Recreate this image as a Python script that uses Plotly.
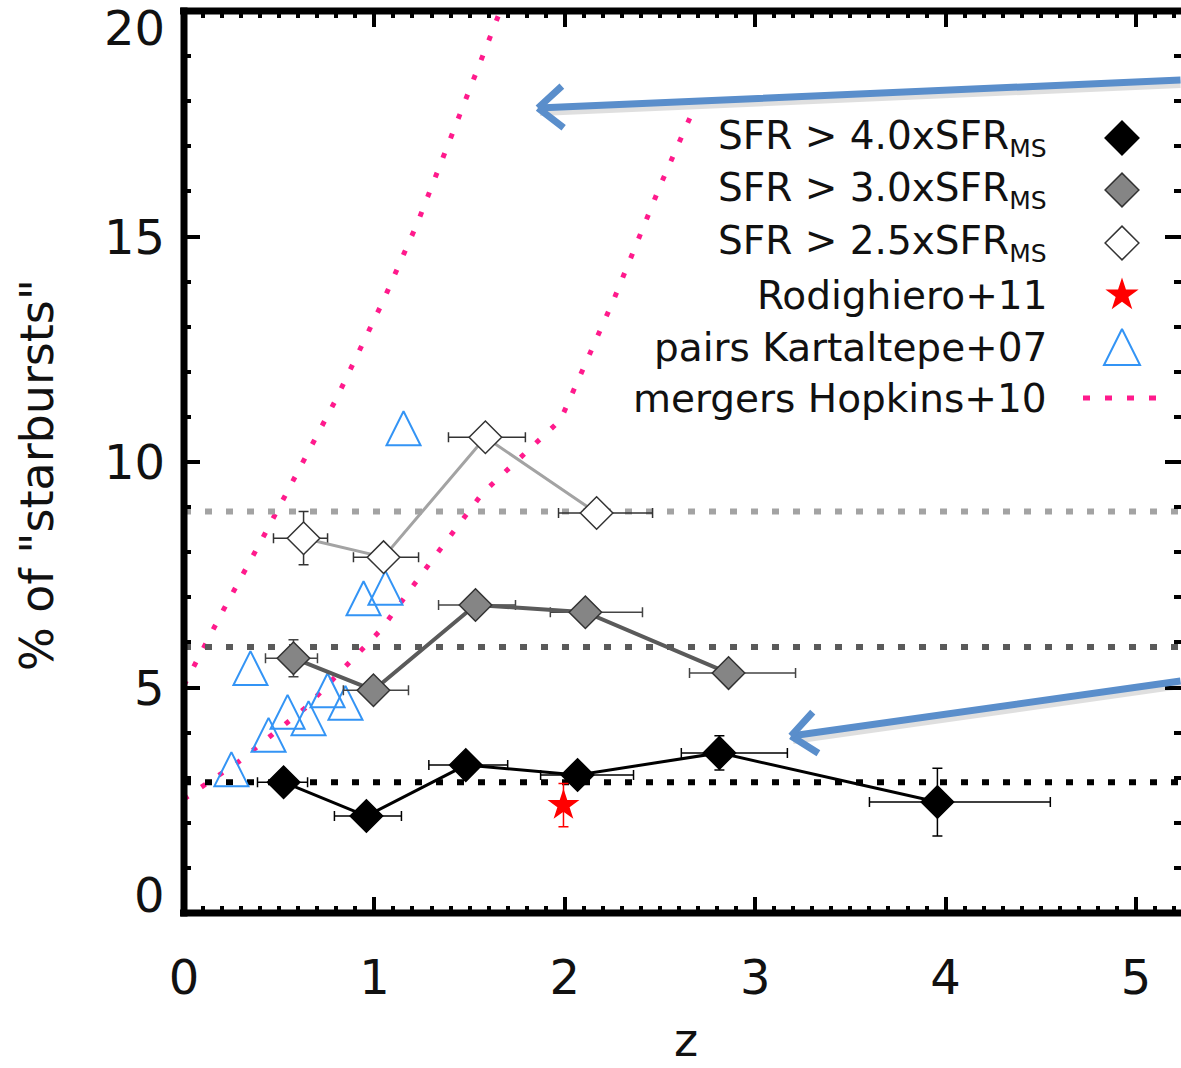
import math
import plotly.graph_objects as go

# ---------------- data ----------------
# SFR > 4.0 x SFR_MS  (black diamonds)
z_sb40 = [0.523, 0.958, 1.48, 2.067, 2.812, 3.957]
pct_sb40 = [2.90, 2.15, 3.28, 3.06, 3.55, 2.46]
zerr_lo_sb40 = [0.137, 0.168, 0.194, 0.194, 0.20, 0.357]
zerr_hi_sb40 = [0.126, 0.184, 0.22, 0.294, 0.357, 0.593]
pcterr_sb40 = [0.0, 0.0, 0.0, 0.0, 0.38, 0.75]

# SFR > 3.0 x SFR_MS  (grey diamonds)
z_sb30 = [0.575, 0.995, 1.531, 2.108, 2.86]
pct_sb30 = [5.65, 4.94, 6.83, 6.67, 5.32]
zerr_lo_sb30 = [0.147, 0.158, 0.194, 0.184, 0.205]
zerr_hi_sb30 = [0.126, 0.184, 0.21, 0.30, 0.352]
pcterr_sb30 = [0.41, 0.0, 0.0, 0.0, 0.0]

# SFR > 2.5 x SFR_MS  (open diamonds)
z_sb25 = [0.628, 1.048, 1.583, 2.167]
pct_sb25 = [8.31, 7.89, 10.55, 8.87]
zerr_lo_sb25 = [0.158, 0.158, 0.194, 0.20]
zerr_hi_sb25 = [0.126, 0.184, 0.21, 0.294]
pcterr_sb25 = [0.59, 0.0, 0.0, 0.0]

# Rodighiero+11 (red star)
z_rod = [1.993]
pct_rod = [2.39]
pcterr_rod = [0.48]

# pairs Kartaltepe+07 (open triangles)
z_kart = [0.249, 0.349, 0.444, 0.544, 0.654, 0.754, 0.848, 0.943, 1.058, 1.153]
pct_kart = [3.19, 5.43, 3.95, 4.46, 4.32, 4.94, 4.66, 6.98, 7.21, 10.75]

# mergers Hopkins+10 (two dotted curves)
z_hop_hi = [0.0, 0.207, 0.428, 0.638, 0.796, 1.048, 1.226, 1.636, 1.66]
pct_hop_hi = [5.05, 6.72, 8.43, 10.1, 11.37, 13.59, 15.3, 19.73, 20.0]
z_hop_lo = [0.0, 0.286, 0.638, 1.032, 1.295, 1.568, 1.977, 2.256, 2.508, 2.685]
pct_hop_lo = [2.53, 3.35, 4.55, 6.27, 7.78, 9.31, 10.93, 13.59, 16.2, 17.9]

# horizontal reference levels (same colours as the three SFR series)
ref_levels = [2.9, 5.9, 8.9]

SUB = "<sub><span style='font-size:25px'>MS</span></sub>"
legend_labels = [
    "SFR > 4.0xSFR" + SUB,
    "SFR > 3.0xSFR" + SUB,
    "SFR > 2.5xSFR" + SUB,
    "Rodighiero+11",
    "pairs Kartaltepe+07",
    "mergers Hopkins+10",
]

x_ticks = [0, 1, 2, 3, 4, 5]
y_ticks = [0, 5, 10, 15, 20]
x_title = "z"
y_title = '% of "starbursts"'

# ---------------- styling / layout constants ----------------
W, H = 1181, 1068
ML, MT, MB = 184, 11, 155
PW, PH = W - ML, H - MT - MB
X_MAX = PW / 190.4
Y_MAX = 20.0005
FONT = "DejaVu Sans"
TXT = "#111111"
PINK = "#ff1a8c"
BLUE = "#3394f5"
ARROW = "#5a8ecb"
GREY_D = "#5a5a5a"
GREY_L = "#a3a3a3"


def px_to_paper(px, py):
    return (px - ML) / PW, (H - MB - py) / PH


fig = go.Figure()

# Hopkins curves
for zz, pp in [(z_hop_hi, pct_hop_hi), (z_hop_lo, pct_hop_lo)]:
    fig.add_trace(go.Scatter(x=zz, y=pp, mode="lines",
                             line=dict(color=PINK, width=5, dash="5px,16px")))

# horizontal dotted reference levels
for lev, col in zip(ref_levels, ["black", GREY_D, GREY_L]):
    fig.add_trace(go.Scatter(x=[0, X_MAX], y=[lev, lev], mode="lines",
                             line=dict(color=col, width=6, dash="7px,14px")))

# Kartaltepe pairs (triangle centred on the point)
TRI = 34
fig.add_trace(go.Scatter(x=z_kart, y=pct_kart, mode="markers",
                         marker=dict(symbol="arrow-down-open", angle=180, standoff=TRI / 2,
                                     size=TRI, color=BLUE, line=dict(color=BLUE, width=2))))

# SFR series
series = [
    (z_sb25, pct_sb25, zerr_lo_sb25, zerr_hi_sb25, pcterr_sb25, GREY_L, "white", "#333333", "#333333", 3),
    (z_sb30, pct_sb30, zerr_lo_sb30, zerr_hi_sb30, pcterr_sb30, GREY_D, "#858585", "#333333", "#444444", 4),
    (z_sb40, pct_sb40, zerr_lo_sb40, zerr_hi_sb40, pcterr_sb40, "black", "black", "black", "black", 3),
]
for zz, pp, zlo, zhi, pe, lc, fc, oc, ec, lw in series:
    fig.add_trace(go.Scatter(
        x=zz, y=pp, mode="lines+markers",
        line=dict(color=lc, width=lw),
        marker=dict(symbol="diamond", size=25, color=fc, line=dict(color=oc, width=1.5)),
        error_x=dict(type="data", symmetric=False, array=zhi, arrayminus=zlo, visible=True,
                     color=ec, thickness=1.5, width=5),
        error_y=dict(type="data", array=pe, visible=True, color=ec, thickness=1.5, width=5),
    ))

# Rodighiero star
fig.add_trace(go.Scatter(x=z_rod, y=pct_rod, mode="markers",
                         marker=dict(symbol="star", size=24, color="#ff0000", line=dict(width=0)),
                         error_y=dict(type="data", array=pcterr_rod, visible=True,
                                      color="#ff0000", thickness=1.5, width=5)))

# ---------------- custom legend (pixel overlay axes) ----------------
LEG_TEXT_X = 1049
LEG_SYM_X = 1122
LEG_ROWS = [138, 190, 243, 295, 347, 398]
leg_markers = [
    dict(symbol="diamond", size=26, color="black", line=dict(color="black", width=1.5)),
    dict(symbol="diamond", size=26, color="#858585", line=dict(color="#333333", width=1.5)),
    dict(symbol="diamond", size=26, color="white", line=dict(color="#333333", width=1.5)),
    dict(symbol="star", size=25, color="#ff0000", line=dict(width=0)),
    dict(symbol="arrow-down-open", angle=180, standoff=18, size=36, color=BLUE,
         line=dict(color=BLUE, width=2)),
]
for mk, yy in zip(leg_markers, LEG_ROWS[:5]):
    fig.add_trace(go.Scatter(x=[LEG_SYM_X], y=[yy], mode="markers", marker=mk,
                             xaxis="x2", yaxis="y2"))
fig.add_trace(go.Scatter(x=[1083, 1162], y=[LEG_ROWS[5], LEG_ROWS[5]], mode="lines",
                         line=dict(color=PINK, width=5, dash="7px,15px"),
                         xaxis="x2", yaxis="y2"))

annotations = []
for lab, yy in zip(legend_labels, LEG_ROWS):
    annotations.append(dict(x=LEG_TEXT_X, y=yy, xref="x2", yref="y2", text=lab,
                            showarrow=False, xanchor="right", yanchor="middle",
                            font=dict(family=FONT, size=39, color=TXT)))

# y tick labels (end labels nudged inside the frame, as in the original)
for v in y_ticks:
    shift = -17 if v == max(y_ticks) else (18 if v == min(y_ticks) else 0)
    annotations.append(dict(x=0, y=v, xref="paper", yref="y", text=str(v), showarrow=False,
                            xanchor="right", yanchor="middle", xshift=-17, yshift=shift,
                            font=dict(family=FONT, size=48, color=TXT)))

# axis titles
tx, ty = px_to_paper(37, 475)
annotations.append(dict(x=tx, y=ty, xref="paper", yref="paper", text=y_title,
                        textangle=-90, showarrow=False, xanchor="center", yanchor="middle",
                        font=dict(family=FONT, size=46, color=TXT)))
tx, ty = px_to_paper(686, 1040)
annotations.append(dict(x=tx, y=ty, xref="paper", yref="paper", text=x_title,
                        showarrow=False, xanchor="center", yanchor="middle",
                        font=dict(family=FONT, size=46, color=TXT)))


# blue arrows (drawn as annotations)
def arrow_ann(x, y, ax, ay, color, width):
    return dict(x=x, y=y, xref="x2", yref="y2", ax=ax, ay=ay, showarrow=True, arrowhead=0,
                arrowwidth=width, arrowcolor=color, text="", font=dict(size=1),
                borderpad=0, standoff=0, startstandoff=0)


def add_arrow(head, tail):
    hx, hy = head
    tx_, ty_ = tail
    annotations.append(arrow_ann(hx + 2, hy + 4, tx_ - hx, ty_ - hy, "rgba(0,0,0,0.12)", 8))
    annotations.append(arrow_ann(hx, hy, tx_ - hx, ty_ - hy, ARROW, 7))
    th = math.atan2(ty_ - hy, tx_ - hx)
    for sgn in (1, -1):
        a = th + sgn * math.radians(40)
        annotations.append(arrow_ann(hx, hy, 33 * math.cos(a), 33 * math.sin(a), ARROW, 7))


add_arrow((538, 108), (1195, 80))
add_arrow((791, 736), (1195, 681))

# frame lines
shapes = [
    dict(type="line", xref="paper", yref="paper", x0=0, x1=0, y0=-0.004, y1=1.004,
         line=dict(color="black", width=7), layer="above"),
    dict(type="line", xref="paper", yref="paper", x0=-0.004, x1=1.0, y0=0, y1=0,
         line=dict(color="black", width=7), layer="above"),
    dict(type="line", xref="paper", yref="paper", x0=-0.004, x1=1.0, y0=1, y1=1,
         line=dict(color="black", width=7), layer="above"),
]

fig.update_layout(
    width=W, height=H,
    margin=dict(l=ML, r=0, t=MT, b=MB, pad=0),
    plot_bgcolor="white", paper_bgcolor="white",
    showlegend=False,
    font=dict(family=FONT, color=TXT),
    annotations=annotations,
    shapes=shapes,
    xaxis=dict(range=[0, X_MAX], tickvals=x_ticks, ticks="inside", ticklen=16, tickwidth=4,
               tickcolor="black", mirror="ticks", showline=False, showgrid=False, zeroline=False,
               tickfont=dict(family=FONT, size=48, color=TXT), ticklabelstandoff=32,
               minor=dict(dtick=0.1, tick0=0, ticks="inside", ticklen=7, tickwidth=4,
                          tickcolor="black", showgrid=False)),
    yaxis=dict(range=[0, Y_MAX], tickvals=y_ticks, ticks="inside", ticklen=16, tickwidth=4,
               tickcolor="black", mirror="ticks", showline=False, showgrid=False, zeroline=False,
               showticklabels=False,
               minor=dict(dtick=1, tick0=0, ticks="inside", ticklen=7, tickwidth=4,
                          tickcolor="black", showgrid=False)),
    xaxis2=dict(range=[ML, W], overlaying="x", visible=False, fixedrange=True),
    yaxis2=dict(range=[H - MB, MT], overlaying="y", visible=False, fixedrange=True),
)

fig.write_html("out.html")
